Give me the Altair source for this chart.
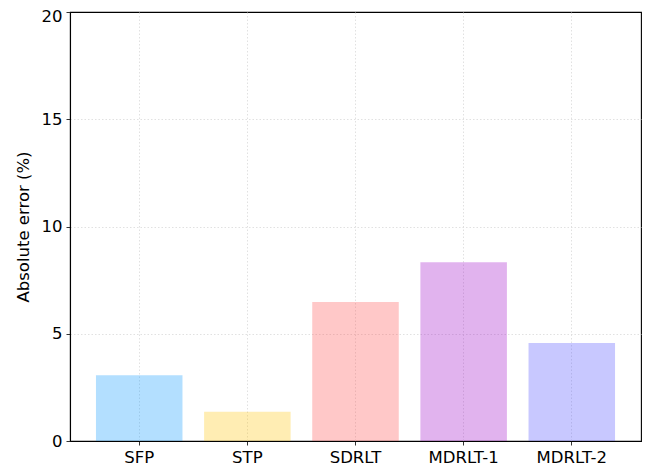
import altair as alt
import pandas as pd

methods = ["SFP", "STP", "SDRLT", "MDRLT-1", "MDRLT-2"]
errors = [3.07, 1.36, 6.48, 8.33, 4.57]
colors = ["#0396ff", "#ffc402", "#ff4848", "#9a02c8", "#4848ff"]

df = pd.DataFrame({"method": methods, "error": errors})

FS = 16.5

chart = alt.Chart(df).mark_bar(opacity=0.3).encode(
    x=alt.X("method:N", sort=methods, title=None,
            scale=alt.Scale(paddingInner=0.2, paddingOuter=0.24),
            axis=alt.Axis(labelAngle=0, labelFont="DejaVu Sans", labelFontSize=FS,
                          labelColor="black", tickColor="#333", domainColor="black",
                          tickSize=4, labelPadding=4, domainWidth=1.1,
                          grid=True, gridColor="#d9d9d9", gridDash=[1.5, 2], gridWidth=0.8)),
    y=alt.Y("error:Q", title="Absolute error (%)",
            scale=alt.Scale(domain=[0, 20], nice=False),
            axis=alt.Axis(values=[0, 5, 10, 15, 20], labelFont="DejaVu Sans", labelFontSize=FS,
                          labelColor="black", tickColor="#333", domainColor="black",
                          tickSize=4, labelPadding=4, titleFont="DejaVu Sans",
                          titleFontSize=FS, titleFontWeight="normal", titleColor="black",
                          titlePadding=10, domainWidth=1.1,
                          labelOffset={"condition": {"test": "datum.value === 20", "value": 4}, "value": 0},
                          gridOpacity={"condition": {"test": "datum.value === 20 || datum.value === 0", "value": 0}, "value": 1},
                          grid=True, gridColor="#d9d9d9", gridDash=[1.5, 2], gridWidth=0.8)),
    color=alt.Color("method:N", sort=methods,
                    scale=alt.Scale(domain=methods, range=colors), legend=None),
).properties(
    width=571, height=429,
    autosize=alt.AutoSizeParams(type="none"),
    padding={"left": 62, "top": 4, "right": 3, "bottom": 30},
).configure_view(stroke="black", strokeWidth=1.1)

chart.save("out.html", embed_options={"renderer": "svg", "actions": False})
